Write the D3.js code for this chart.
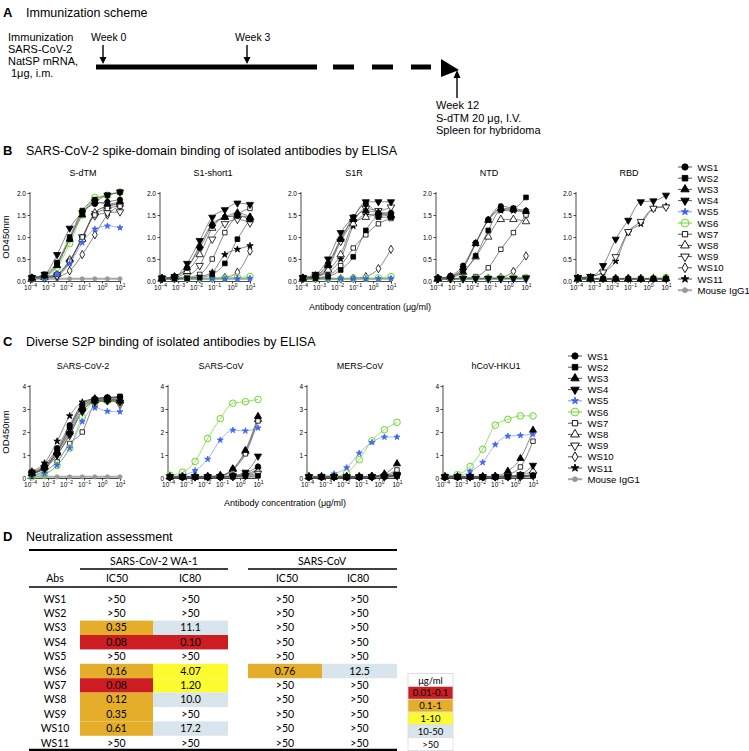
<!DOCTYPE html>
<html>
<head>
<meta charset="utf-8">
<script src="https://cdn.jsdelivr.net/npm/d3@7/dist/d3.min.js"></script>
<style>
  body { margin: 0; background: #fff; }
  text { font-family: "Liberation Sans", Arial, sans-serif; fill: #000; }
  .tbl { font-family: Lato, "Open Sans", sans-serif; }
</style>
</head>
<body>
<svg id="fig" width="749" height="751"></svg>
<script>
// ---- data ----
var conc = [0.000128, 0.00064, 0.0032, 0.016, 0.08, 0.4, 2, 10];
var antibodies = ["WS1","WS2","WS3","WS4","WS5","WS6","WS7","WS8","WS9","WS10","WS11","Mouse IgG1"];
var bTitles = ["S-dTM","S1-short1","S1R","NTD","RBD"];
var cTitles = ["SARS-CoV-2","SARS-CoV","MERS-CoV","hCoV-HKU1"];
var xTickExp = [-4,-3,-2,-1,0,1];
var bYTicks = [0, 0.5, 1.0, 1.5, 2.0];
var cYTicks = [0, 1, 2, 3, 4];

// rows: WS1..WS11, Mouse IgG1
var sdtm = [
  [0.08,0.12,0.40,0.95,1.55,1.75,1.80,1.85],
  [0.07,0.15,0.42,1.00,1.60,1.85,1.95,2.02],
  [0.07,0.12,0.35,0.95,1.50,1.80,1.75,1.80],
  [0.08,0.15,0.60,1.20,1.55,1.80,1.95,2.02],
  [0.07,0.06,0.15,0.40,0.87,1.18,1.25,1.21],
  [0.07,0.10,0.31,0.85,1.50,1.90,1.95,2.02],
  [0.06,0.08,0.15,0.45,1.00,1.50,1.65,1.70],
  [0.06,0.08,0.15,0.48,0.95,1.55,1.70,1.75],
  [0.06,0.07,0.12,0.42,1.00,1.48,1.55,1.57],
  [0.06,0.07,0.10,0.23,0.60,1.05,1.50,1.70],
  [0.07,0.10,0.16,0.45,0.98,1.55,1.70,1.75],
  [0.05,0.05,0.05,0.05,0.05,0.05,0.05,0.05]
];
var s1short1 = [
  [0.06,0.10,0.30,0.75,1.25,1.45,1.48,1.40],
  [0.05,0.05,0.06,0.08,0.15,0.40,0.95,1.40],
  [0.06,0.10,0.30,0.80,1.30,1.45,1.55,1.45],
  [0.07,0.10,0.40,0.92,1.45,1.62,1.77,1.74],
  [0.05,0.05,0.05,0.05,0.05,0.05,0.05,0.06],
  [0.06,0.06,0.06,0.06,0.06,0.07,0.08,0.10],
  [0.05,0.06,0.08,0.15,0.50,1.10,1.50,1.65],
  [0.06,0.08,0.22,0.60,1.20,1.45,1.48,1.45],
  [0.05,0.06,0.12,0.35,0.95,1.30,1.40,1.32],
  [0.05,0.05,0.05,0.05,0.06,0.08,0.20,0.68],
  [0.05,0.05,0.06,0.10,0.20,0.60,0.72,0.80],
  [0.05,0.05,0.05,0.05,0.05,0.05,0.05,0.05]
];
var s1r = [
  [0.07,0.12,0.40,0.95,1.45,1.75,1.55,1.55],
  [0.05,0.06,0.10,0.25,0.55,1.15,1.45,1.45],
  [0.07,0.12,0.35,0.95,1.40,1.60,1.55,1.50],
  [0.08,0.15,0.50,1.10,1.45,1.80,1.80,1.80],
  [0.05,0.05,0.05,0.05,0.05,0.05,0.05,0.06],
  [0.05,0.05,0.05,0.05,0.06,0.06,0.07,0.10],
  [0.05,0.07,0.12,0.35,0.75,1.05,1.30,1.42],
  [0.06,0.10,0.25,0.60,1.30,1.45,1.50,1.48],
  [0.07,0.10,0.30,0.90,1.35,1.65,1.60,1.68],
  [0.05,0.05,0.05,0.05,0.06,0.10,0.28,0.72],
  [0.06,0.10,0.20,0.50,1.25,1.50,1.52,1.52],
  [0.05,0.05,0.05,0.05,0.05,0.05,0.05,0.05]
];
var ntd = [
  [0.06,0.12,0.35,0.87,1.40,1.70,1.65,1.60],
  [0.06,0.10,0.22,0.57,1.15,1.62,1.65,1.90],
  [0.06,0.10,0.30,0.85,1.38,1.65,1.62,1.58],
  [0.05,0.05,0.06,0.06,0.06,0.06,0.06,0.07],
  [0.05,0.05,0.05,0.05,0.05,0.05,0.05,0.05],
  [0.06,0.06,0.06,0.06,0.06,0.07,0.08,0.08],
  [0.05,0.05,0.06,0.10,0.30,0.72,1.10,1.50],
  [0.06,0.08,0.20,0.55,1.00,1.40,1.40,1.35],
  [0.05,0.05,0.05,0.05,0.05,0.05,0.06,0.06],
  [0.05,0.05,0.05,0.05,0.06,0.08,0.22,0.57],
  [0.06,0.10,0.30,0.85,1.38,1.60,1.60,1.55],
  [0.05,0.05,0.05,0.05,0.05,0.05,0.05,0.05]
];
var rbd = [
  [0.06,0.06,0.05,0.05,0.05,0.05,0.05,0.05],
  [0.06,0.05,0.05,0.05,0.05,0.05,0.05,0.05],
  [0.05,0.05,0.05,0.05,0.05,0.05,0.05,0.05],
  [0.08,0.10,0.35,0.95,1.38,1.80,1.82,1.95],
  [0.05,0.05,0.05,0.05,0.05,0.05,0.05,0.05],
  [0.05,0.05,0.05,0.05,0.05,0.05,0.06,0.08],
  [0.05,0.05,0.05,0.05,0.05,0.05,0.05,0.05],
  [0.05,0.05,0.05,0.05,0.05,0.05,0.05,0.06],
  [0.07,0.10,0.20,0.55,1.12,1.35,1.65,1.68],
  [0.05,0.05,0.05,0.05,0.05,0.05,0.05,0.06],
  [0.07,0.10,0.20,0.45,1.10,1.30,1.65,1.70],
  [0.05,0.05,0.05,0.05,0.05,0.05,0.05,0.05]
];
var sarscov2 = [
  [0.25,0.55,1.30,2.30,3.20,3.45,3.50,3.50],
  [0.20,0.45,1.15,2.20,3.10,3.40,3.50,3.55],
  [0.20,0.45,1.10,2.00,3.00,3.35,3.40,3.35],
  [0.20,0.40,1.00,1.90,2.90,3.30,3.35,3.30],
  [0.10,0.20,0.55,1.30,2.45,3.05,2.90,2.88],
  [0.05,0.15,0.55,1.30,2.65,3.30,3.35,3.35],
  [0.10,0.30,0.70,1.50,2.00,3.20,3.40,3.40],
  [0.20,0.50,1.10,2.10,3.10,3.40,3.40,3.40],
  [0.15,0.45,1.00,1.85,2.90,3.35,3.40,3.20],
  [0.20,0.50,1.20,2.20,3.20,3.45,3.45,3.45],
  [0.30,0.65,1.60,2.70,3.30,3.45,3.50,3.50],
  [0.05,0.05,0.05,0.05,0.05,0.05,0.05,0.05]
];
var sarscov = [
  [0.05,0.05,0.05,0.05,0.06,0.08,0.20,0.50],
  [0.05,0.05,0.05,0.05,0.05,0.06,0.08,0.10],
  [0.05,0.05,0.05,0.06,0.10,0.40,1.20,2.68],
  [0.05,0.05,0.05,0.05,0.06,0.10,0.25,0.95],
  [0.05,0.12,0.32,0.82,1.65,2.08,2.05,2.18],
  [0.12,0.25,0.72,1.72,2.58,3.25,3.32,3.42],
  [0.05,0.05,0.05,0.06,0.08,0.35,1.05,2.48],
  [0.05,0.05,0.05,0.06,0.10,0.38,1.15,2.55],
  [0.05,0.05,0.05,0.05,0.05,0.06,0.10,0.20],
  [0.05,0.05,0.05,0.05,0.05,0.06,0.12,0.30],
  [0.05,0.05,0.05,0.05,0.05,0.06,0.15,0.38],
  [0.05,0.05,0.05,0.05,0.05,0.05,0.05,0.05]
];
var merscov = [
  [0.05,0.05,0.05,0.05,0.05,0.06,0.08,0.10],
  [0.05,0.05,0.05,0.05,0.05,0.05,0.06,0.08],
  [0.05,0.05,0.05,0.05,0.05,0.08,0.18,0.62],
  [0.05,0.05,0.05,0.05,0.05,0.06,0.08,0.15],
  [0.06,0.07,0.18,0.45,1.08,1.55,1.78,1.78],
  [0.05,0.05,0.06,0.22,0.80,1.62,2.10,2.42],
  [0.05,0.05,0.05,0.05,0.05,0.07,0.12,0.35],
  [0.05,0.05,0.05,0.05,0.05,0.06,0.10,0.22],
  [0.05,0.05,0.05,0.05,0.05,0.05,0.06,0.10],
  [0.05,0.05,0.05,0.05,0.05,0.05,0.06,0.15],
  [0.05,0.05,0.05,0.05,0.05,0.06,0.08,0.12],
  [0.05,0.05,0.05,0.05,0.05,0.05,0.05,0.05]
];
var hku1 = [
  [0.05,0.05,0.05,0.05,0.05,0.06,0.08,0.12],
  [0.05,0.05,0.05,0.05,0.05,0.05,0.06,0.10],
  [0.05,0.05,0.05,0.05,0.08,0.30,0.85,2.08],
  [0.05,0.05,0.05,0.05,0.05,0.08,0.15,0.55],
  [0.10,0.10,0.28,0.68,1.45,1.82,1.85,1.90],
  [0.08,0.15,0.50,1.25,2.30,2.55,2.70,2.70],
  [0.05,0.05,0.05,0.05,0.06,0.15,0.48,1.60],
  [0.05,0.05,0.05,0.05,0.05,0.06,0.12,0.30],
  [0.05,0.05,0.05,0.05,0.05,0.05,0.08,0.15],
  [0.05,0.05,0.05,0.05,0.05,0.05,0.06,0.10],
  [0.05,0.05,0.05,0.05,0.05,0.06,0.10,0.12],
  [0.05,0.05,0.05,0.05,0.05,0.05,0.05,0.05]
];

// neutralization table (µg/ml), null = ">50"
var ntAbs = ["WS1","WS2","WS3","WS4","WS5","WS6","WS7","WS8","WS9","WS10","WS11"];
var wa1IC50 = [null,null,"0.35","0.08",null,"0.16","0.08","0.12","0.35","0.61",null];
var wa1IC80 = [null,null,"11.1","0.10",null,"4.07","1.20","10.0",null,"17.2",null];
var sarsIC50 = [null,null,null,null,null,"0.76",null,null,null,null,null];
var sarsIC80 = [null,null,null,null,null,"12.5",null,null,null,null,null];
var binLabels = ["0.01-0.1","0.1-1","1-10","10-50",">50"];
var binColors = ["#cc1d22","#e5ae2a","#fbfb30","#d8e5ec","#ffffff"];

// ---- styles ----
var tri = d3.symbolTriangle;
var styles = [
  {sym: d3.symbolCircle, size: 22, fill: "#000", stroke: "#000", line: "#555"},
  {sym: d3.symbolSquare, size: 22, fill: "#000", stroke: "#000", line: "#555"},
  {sym: tri, size: 22, fill: "#000", stroke: "#000", line: "#555"},
  {sym: tri, rot: 180, size: 22, fill: "#000", stroke: "#000", line: "#555"},
  {sym: d3.symbolStar, size: 11, fill: "#3d63f5", stroke: "#3d63f5", line: "#7d95f5"},
  {sym: d3.symbolCircle, size: 34, fill: "none", stroke: "#6bd92a", line: "#6bd92a", sw: 1},
  {sym: d3.symbolSquare, size: 20, fill: "#fff", stroke: "#000", line: "#555"},
  {sym: tri, size: 24, fill: "#fff", stroke: "#000", line: "#555"},
  {sym: tri, rot: 180, size: 24, fill: "#fff", stroke: "#000", line: "#555"},
  {sym: d3.symbolDiamond, size: 20, fill: "#fff", stroke: "#000", line: "#555"},
  {sym: d3.symbolStar, size: 13, fill: "#000", stroke: "#000", line: "#555"},
  {sym: d3.symbolCircle, size: 14, fill: "#999", stroke: "#999", line: "#aaa", lw: 2}
];

var svg = d3.select("#fig");

function panelLetter(letter, title, y) {
  svg.append("text").attr("x", 3).attr("y", y).attr("font-size", 13).attr("font-weight", "bold").text(letter);
  svg.append("text").attr("x", 26).attr("y", y).attr("font-size", 12.5).text(title);
}

function supTick(sel, exp) {
  sel.text(null);
  sel.append("tspan").text("10");
  sel.append("tspan").attr("dy", -3).attr("font-size", 5).text(exp);
}

function drawPlot(x0, yTop, yBot, w, ymax, yTicks, fmt, title, data) {
  var g = svg.append("g");
  var x = d3.scaleLog().domain([1e-4, 10]).range([x0, x0 + w]);
  var y = d3.scaleLinear().domain([0, ymax]).range([yBot, yTop]);

  var yAxis = d3.axisLeft(y).tickValues(yTicks).tickFormat(d3.format(fmt)).tickSize(2.5).tickPadding(1.5);
  var ya = g.append("g").attr("transform", "translate(" + x0 + ",0)").call(yAxis);
  var xAxis = d3.axisBottom(x).tickValues(xTickExp.map(function(e){ return Math.pow(10, e); })).tickSize(2.5).tickPadding(1.5);
  var xa = g.append("g").attr("transform", "translate(0," + yBot + ")").call(xAxis);
  xa.selectAll(".tick text").each(function(d, i) { supTick(d3.select(this), String(xTickExp[i]).replace("-", "\u2212")); });
  [ya, xa].forEach(function(a) {
    a.selectAll("text").attr("font-size", 6.5).attr("font-family", "Liberation Sans, Arial, sans-serif");
    a.selectAll("path,line").attr("stroke", "#333").attr("stroke-width", 0.9);
  });
  ya.select(".domain").attr("d", "M0," + (yBot + 1) + "V" + (yTop - 1));

  svg.append("text").attr("x", x0 + w / 2 + 8).attr("y", yTop - 17).attr("font-size", 9)
    .attr("text-anchor", "middle").text(title);

  var line = d3.line().x(function(d, i){ return x(conc[i]); }).y(function(d){ return y(d); }).curve(d3.curveMonotoneX);
  for (var k = data.length - 1; k >= 0; k--) {
    var st = styles[k];
    g.append("path").attr("d", line(data[k])).attr("fill", "none")
      .attr("stroke", st.line).attr("stroke-width", st.lw || 0.7);
  }
  for (var k = data.length - 1; k >= 0; k--) {
    var st = styles[k];
    g.selectAll(null).data(data[k]).enter().append("path")
      .attr("d", d3.symbol().type(st.sym).size(st.size))
      .attr("transform", function(d, i){ return "translate(" + x(conc[i]) + "," + y(d) + ")" + (st.rot ? " rotate(" + st.rot + ")" : ""); })
      .attr("fill", st.fill).attr("stroke", st.stroke).attr("stroke-width", st.sw || 0.8);
  }
}

function drawLegend(xs, y0, step) {
  antibodies.forEach(function(name, k) {
    var st = styles[k];
    var yy = y0 + k * step;
    svg.append("line").attr("x1", xs - 7).attr("x2", xs + 7).attr("y1", yy).attr("y2", yy)
      .attr("stroke", st.line).attr("stroke-width", st.lw || 1);
    svg.append("path").attr("d", d3.symbol().type(st.sym).size(st.size * 1.4))
      .attr("transform", "translate(" + xs + "," + yy + ")" + (st.rot ? " rotate(" + st.rot + ")" : ""))
      .attr("fill", st.fill).attr("stroke", st.stroke).attr("stroke-width", st.sw || 0.9);
    svg.append("text").attr("x", xs + 12.5).attr("y", yy + 3.6).attr("font-size", 9.6).text(name);
  });
}

// ---- panel A ----
svg.append("text").attr("x", 3).attr("y", 17).attr("font-size", 13).attr("font-weight", "bold").text("A");
svg.append("text").attr("x", 26).attr("y", 17).attr("font-size", 12.5).text("Immunization scheme");
["Immunization", "SARS-CoV-2", "NatSP mRNA,", " 1\u03bcg, i.m."].forEach(function(t, i) {
  svg.append("text").attr("x", i === 3 ? 11 : 8).attr("y", 41 + i * 12)
    .attr("font-size", 11).text(t);
});
var weekLabels = [{t: "Week 0", x: 103}, {t: "Week 3", x: 247}];
weekLabels.forEach(function(wk) {
  svg.append("text").attr("x", wk.x - 12).attr("y", 41).attr("font-size", 10.5).text(wk.t);
  svg.append("line").attr("x1", wk.x).attr("x2", wk.x).attr("y1", 45).attr("y2", 58).attr("stroke", "#000").attr("stroke-width", 1.4);
  svg.append("path").attr("d", "M" + (wk.x - 3.5) + ",57L" + (wk.x + 3.5) + ",57L" + wk.x + ",64Z").attr("fill", "#000");
});
svg.append("line").attr("x1", 96).attr("x2", 317).attr("y1", 67).attr("y2", 67).attr("stroke", "#000").attr("stroke-width", 5);
[[333, 354], [372, 393], [411, 431]].forEach(function(s) {
  svg.append("line").attr("x1", s[0]).attr("x2", s[1]).attr("y1", 67).attr("y2", 67).attr("stroke", "#000").attr("stroke-width", 5);
});
svg.append("path").attr("d", "M441,59L441,77L459,70Z").attr("fill", "#000");
svg.append("line").attr("x1", 457).attr("x2", 457).attr("y1", 76).attr("y2", 98).attr("stroke", "#000").attr("stroke-width", 1.4);
svg.append("path").attr("d", "M453.5,78L460.5,78L457,70Z").attr("fill", "#000");
["Week 12", "S-dTM 20 \u03bcg, I.V.", "Spleen for hybridoma"].forEach(function(t, i) {
  svg.append("text").attr("x", 436).attr("y", 109 + i * 12.5).attr("font-size", 11).text(t);
});

// ---- panel B ----
panelLetter("B", "SARS-CoV-2 spike-domain binding of isolated antibodies by ELISA", 155);
var bX = [30, 160, 301, 436, 576];
var bData = [sdtm, s1short1, s1r, ntd, rbd];
bTitles.forEach(function(t, i) {
  drawPlot(bX[i], 193, 281, 90, 2.0, bYTicks, ".1f", t, bData[i]);
});
svg.append("text").attr("transform", "translate(9,237) rotate(-90)").attr("text-anchor", "middle").attr("font-size", 9.5).text("OD450nm");
svg.append("text").attr("x", 370).attr("y", 310).attr("text-anchor", "middle").attr("font-size", 9).text("Antibody concentration (\u03bcg/ml)");
drawLegend(685, 167, 11.2);

// ---- panel C ----
panelLetter("C", "Diverse S2P binding of isolated antibodies by ELISA", 346);
var cX = [30, 168, 307, 443];
var cData = [sarscov2, sarscov, merscov, hku1];
cTitles.forEach(function(t, i) {
  drawPlot(cX[i], 386, 478, 90, 4, cYTicks, "d", t, cData[i]);
});
svg.append("text").attr("transform", "translate(9,432) rotate(-90)").attr("text-anchor", "middle").attr("font-size", 9.5).text("OD450nm");
svg.append("text").attr("x", 285).attr("y", 506).attr("text-anchor", "middle").attr("font-size", 9).text("Antibody concentration (\u03bcg/ml)");
drawLegend(575, 356, 11.2);

// ---- panel D ----
panelLetter("D", "Neutralization assessment", 541);
function binIndex(v) {
  if (v === null) return 4;
  var n = +v;
  if (n <= 0.1) return 0;
  if (n < 1) return 1;
  if (n < 10) return 2;
  return 3;
}
var colEdges = [[80, 153], [153, 228], [248, 322], [322, 397]];
var cols = [wa1IC50, wa1IC80, sarsIC50, sarsIC80];
var rowY = d3.scaleLinear().domain([0, 10]).range([599, 743]);
var rowH = 14.4;
var tg = svg.append("g").attr("class", "tbl");
cols.forEach(function(col, c) {
  col.forEach(function(v, r) {
    var bi = binIndex(v);
    if (bi < 4) {
      tg.append("rect").attr("x", colEdges[c][0]).attr("y", rowY(r) - rowH / 2)
        .attr("width", colEdges[c][1] - colEdges[c][0]).attr("height", rowH).attr("fill", binColors[bi]);
    }
    tg.append("text").attr("class", "tbl").attr("x", (colEdges[c][0] + colEdges[c][1]) / 2).attr("y", rowY(r) + 3.6)
      .attr("text-anchor", "middle").attr("font-size", 10.5).text(v === null ? ">50" : v);
  });
});
ntAbs.forEach(function(a, r) {
  tg.append("text").attr("class", "tbl").attr("x", 55).attr("y", rowY(r) + 3.6).attr("text-anchor", "middle").attr("font-size", 10.5).text(a);
});
tg.append("text").attr("class", "tbl").attr("x", 154).attr("y", 565).attr("text-anchor", "middle").attr("font-size", 10.5).text("SARS-CoV-2 WA-1");
tg.append("text").attr("class", "tbl").attr("x", 322).attr("y", 565).attr("text-anchor", "middle").attr("font-size", 10.5).text("SARS-CoV");
[["Abs", 55], ["IC50", 117], ["IC80", 190], ["IC50", 287], ["IC80", 358]].forEach(function(h) {
  tg.append("text").attr("class", "tbl").attr("x", h[1]).attr("y", 582).attr("text-anchor", "middle").attr("font-size", 10.5).text(h[0]);
});
function rule(x1, x2, yy, sw) {
  svg.append("line").attr("x1", x1).attr("x2", x2).attr("y1", yy).attr("y2", yy).attr("stroke", "#000").attr("stroke-width", sw);
}
rule(29, 397, 550, 2);
rule(80, 228, 569, 1.5);
rule(248, 397, 569, 1.5);
rule(29, 397, 587, 1.5);
rule(29, 397, 750, 2.5);

// colour key
var kg = svg.append("g");
kg.append("rect").attr("x", 408).attr("y", 673.5).attr("width", 45).attr("height", 13).attr("fill", "#fff").attr("stroke", "#ddd");
kg.append("text").attr("class", "tbl").attr("x", 430.5).attr("y", 683.5).attr("text-anchor", "middle").attr("font-size", 9.5).text("\u03bcg/ml");
binLabels.forEach(function(b, i) {
  var yy = 686.5 + i * 12.8;
  kg.append("rect").attr("x", 408).attr("y", yy).attr("width", 45).attr("height", 12.8)
    .attr("fill", binColors[i]).attr("stroke", "#ddd").attr("stroke-width", 0.8);
  kg.append("text").attr("class", "tbl").attr("x", 430.5).attr("y", yy + 9.8).attr("text-anchor", "middle").attr("font-size", 9.5).text(b);
});
</script>
</body>
</html>
